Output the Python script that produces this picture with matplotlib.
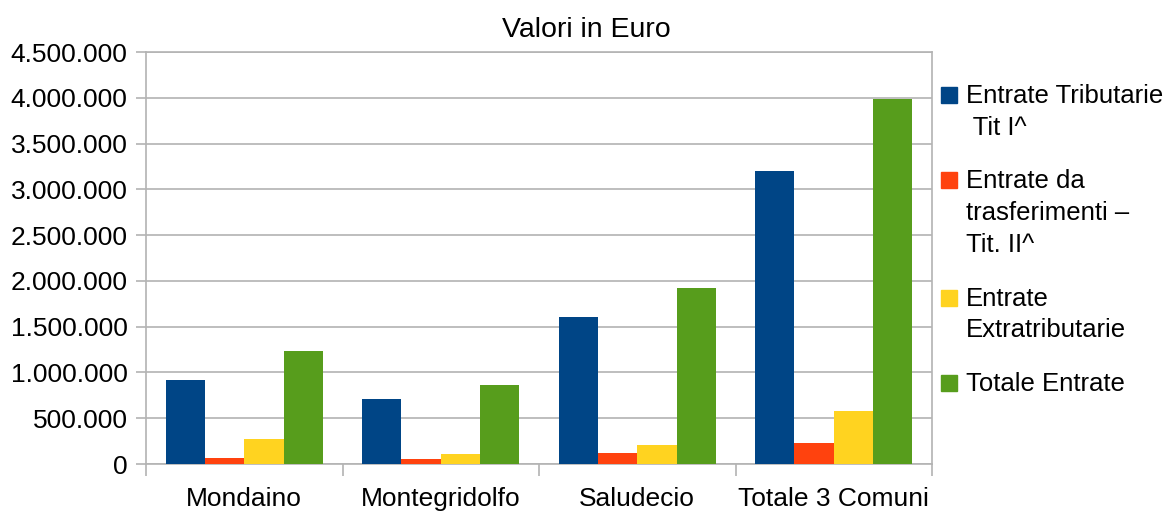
import matplotlib
matplotlib.use("Agg")
import matplotlib.pyplot as plt
from matplotlib.patches import Rectangle
from matplotlib.ticker import FuncFormatter, MultipleLocator
import numpy as np

plt.rcParams['font.family'] = ['Liberation Sans', 'DejaVu Sans']

# data
comuni = ['Mondaino', 'Montegridolfo', 'Saludecio', 'Totale 3 Comuni']
tributarie = [915000, 708000, 1601000, 3202000]
trasferimenti = [69000, 58000, 123000, 232000]
extratributarie = [276000, 112000, 210000, 581000]
totale = [1234000, 864000, 1917000, 3987000]

serie = [tributarie, trasferimenti, extratributarie, totale]
nomi = ['Entrate Tributarie\n Tit I^', 'Entrate da\ntrasferimenti –\nTit. II^',
        'Entrate\nExtratributarie', 'Totale Entrate']
colori = ['#004586', '#ff420e', '#ffd320', '#579d1c']

W, H = 1166, 513
fig = plt.figure(figsize=(W / 100, H / 100), dpi=100)
ax = fig.add_axes([146 / W, 1 - 464 / H, (932 - 146) / W, (464 - 52) / H])

grigio = '#b3b3b3'
x = np.arange(len(comuni))
bw = 0.2
for i, (vals, col) in enumerate(zip(serie, colori)):
    ax.bar(x + (i - 1.5) * bw, vals, width=bw, color=col, zorder=3)

ax.set_xlim(-0.5, len(comuni) - 0.5)
ax.set_ylim(0, 4500000)
ax.yaxis.set_major_locator(MultipleLocator(500000))
ax.yaxis.set_major_formatter(FuncFormatter(lambda v, p: f'{int(v):,}'.replace(',', '.')))
ax.grid(axis='y', color=grigio, lw=1.2, zorder=0)

# category labels centred, boundary ticks between them
ax.set_xticks(np.arange(-0.5, len(comuni)), minor=False)
ax.set_xticklabels([])
ax.set_xticks(x, minor=True)
ax.set_xticklabels(comuni, minor=True)
ax.tick_params(axis='x', which='major', length=8.6, width=1.2, color=grigio, direction='out')
ax.tick_params(axis='x', which='minor', length=0, pad=16.5, labelsize=19)
ax.tick_params(axis='y', length=7.2, width=1.2, color=grigio, labelsize=19, pad=6)
for s in ax.spines.values():
    s.set_color(grigio)
    s.set_linewidth(1.2)

fig.text(586 / W, 1 - 30 / H, 'Valori in Euro', ha='center', va='center', fontsize=20.5)

# legend drawn by hand so the marker sits on the first line
y = 95
lh = 31.7
for nome, col in zip(nomi, colori):
    fig.add_artist(Rectangle((941 / W, 1 - (y + 8) / H), 16 / W, 16 / H,
                             transform=fig.transFigure, color=col))
    righe = nome.split('\n')
    for k, riga in enumerate(righe):
        fig.text(966 / W, 1 - (y + 8 + k * lh) / H, riga, ha='left',
                 va='baseline', fontsize=18.5)
    y += len(righe) * lh + 22

fig.savefig('out.png', dpi=100)
